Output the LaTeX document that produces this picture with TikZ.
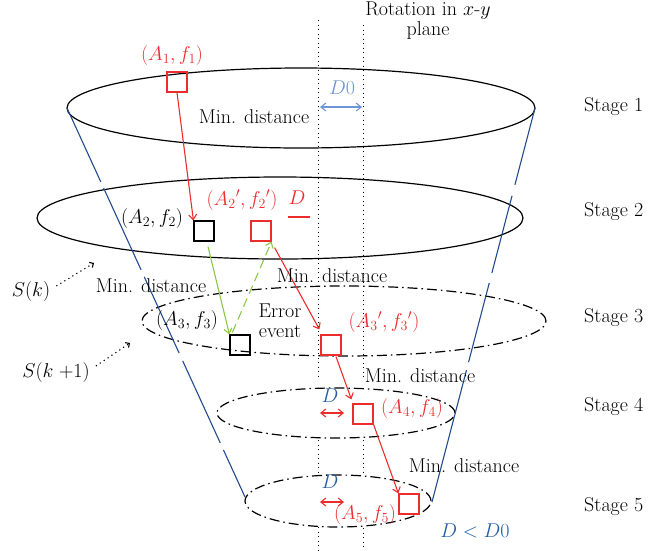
\RequirePackage{fix-cm}
\documentclass[tikz,border=0pt]{standalone}
\usetikzlibrary{arrows.meta,calc}
\definecolor{myred}{RGB}{235,45,45}
\definecolor{mygreen}{RGB}{140,200,70}
\definecolor{lblue}{RGB}{110,150,215}
\definecolor{dblue}{RGB}{35,95,165}
\definecolor{conecol}{RGB}{35,75,140}
\begin{document}
\begin{tikzpicture}[x=1pt,y=-1pt,
  every node/.style={font=\fontsize{20}{22}\selectfont, inner sep=0pt},
  sq/.style={draw, minimum size=20pt, line width=1.2pt, inner sep=0pt},
  redsq/.style={sq, draw=myred},
  stagesolid/.style={line width=1.2pt},
  stagedash/.style={line width=1.2pt, dash pattern=on 10pt off 4pt on 1.5pt off 4pt},
  vdots/.style={line width=1pt, dash pattern=on 1pt off 3.5pt},
  cone/.style={conecol, line width=1.1pt},
  tip/.style={-{Straight Barb[length=5pt,width=8pt]}},
  dtip/.style={{Straight Barb[length=5pt,width=8pt]}-{Straight Barb[length=5pt,width=8pt]}},
  redarr/.style={tip, myred, line width=1.1pt},
  grnarr/.style={tip, mygreen, line width=1.1pt},
  sarr/.style={-{Straight Barb[length=3pt,width=6pt]}, line width=1.1pt, dash pattern=on 1.2pt off 3.5pt}
]
\useasboundingbox (0,0) rectangle (663,550);

% vertical dotted lines
\coordinate (va0) at (318,20);  \coordinate (va1) at (318,380);
\coordinate (va2) at (318,440); \coordinate (va3) at (318,475);
\coordinate (va4) at (318,527); \coordinate (va5) at (318,550);
\coordinate (vb0) at (363,25);  \coordinate (vb1) at (363,380);
\coordinate (vb2) at (363,440); \coordinate (vb3) at (363,475);
\coordinate (vb4) at (363,528); \coordinate (vb5) at (363,550);
\draw[vdots] (va0) -- (va1) (va2) -- (va3) (va4) -- (va5);
\draw[vdots] (vb0) -- (vb1) (vb2) -- (vb3) (vb4) -- (vb5);

% stage ellipses
\draw[stagesolid] (301,108) ellipse [x radius=234pt, y radius=40pt];
\draw[stagesolid] (280,218) ellipse [x radius=243pt, y radius=41pt];
\draw[stagedash] (344,321) ellipse [x radius=202pt, y radius=35pt];
\draw[stagedash] (336,413) ellipse [x radius=119pt, y radius=25pt];
\draw[stagedash] (338,501) ellipse [x radius=93pt, y radius=26pt];

% cone lines
\coordinate (L0) at (67,108);  \coordinate (L1) at (245,497);
\coordinate (R0) at (535,108); \coordinate (R1) at (432,502);
\draw[cone] (L0) -- ($(L0)!0.190!(L1)$)
  ($(L0)!0.206!(L1)$) -- ($(L0)!0.416!(L1)$)
  ($(L0)!0.434!(L1)$) -- ($(L0)!0.630!(L1)$)
  ($(L0)!0.650!(L1)$) -- ($(L0)!0.861!(L1)$)
  ($(L0)!0.879!(L1)$) -- (L1);
\draw[cone] (R0) -- ($(R0)!0.195!(R1)$)
  ($(R0)!0.223!(R1)$) -- ($(R0)!0.419!(R1)$)
  ($(R0)!0.444!(R1)$) -- ($(R0)!0.645!(R1)$)
  ($(R0)!0.665!(R1)$) -- (R1);

% squares
\node[redsq] (a1) at (177,82) {};
\node[sq] (a2) at (204,231) {};
\node[redsq] (a2p) at (261,231) {};
\node[sq] (a3) at (240,345) {};
\node[redsq] (a3p) at (331,345) {};
\node[redsq] (a4) at (363,414) {};
\node[redsq] (a5) at (409,504) {};

% arrows between squares
\draw[redarr] (a1.south) -- (a2.north west);
\draw[grnarr] ($(a2.south)+(4,5)$) -- (a3.north west);
\draw[grnarr, dash pattern=on 9pt off 5pt] ($(a3.north west)+(3,-2)$) -- (a2p.south east);
\draw[redarr] ($(a2p.south east)+(3,6)$) -- ($(a3p.north west)+(-1,-5)$);
\draw[redarr] ($(a3p.south)+(5,1)$) -- ($(a4.north west)+(-1,-4)$);
\draw[redarr] (a4.south east) -- (a5.north west);

% labels
\node[align=center] (rot) at (428,21) {Rotation in $x$-$y$\\[-2pt]plane};
\node[myred] (la1) at (172,55) {$(A_1, f_1)$};
\node[lblue] (ld0) at (342,88) {$D0$};
\coordinate (d0a) at (320,107); \coordinate (d0b) at (362,107);
\draw[dtip, lblue, line width=1.1pt] (d0a) -- (d0b);
\node (md1) at (254,117) {Min. distance};

\node (la2) at (152,218) {$(A_2, f_2)$};
\node[myred] (la2p) at (242,200) {$(A_2{}', f_2{}')$};
\node[myred] (ld2) at (297,198) {$D$};
\coordinate (d2a) at (288,217); \coordinate (d2b) at (310,217);
\draw[myred, line width=1.1pt] (d2a) -- (d2b);

\node (md2) at (332,276) {Min. distance};
\node (md3) at (151,286) {Min. distance};
\node (la3) at (187,320) {$(A_3, f_3)$};
\node[align=center] (err) at (280,321) {Error\\[-2pt]event};
\node[myred] (la3p) at (384,322) {$(A_3{}', f_3{}')$};

\node (md4) at (420,376) {Min. distance};
\node[dblue] (ld4) at (330,396) {$D$};
\coordinate (d4a) at (320,413); \coordinate (d4b) at (344,413);
\draw[dtip, myred, line width=1.1pt] (d4a) -- (d4b);
\node[myred] (la4) at (412,408) {$(A_4, f_4)$};

\node (md5) at (464,466) {Min. distance};
\node[dblue] (ld5) at (330,482) {$D$};
\coordinate (d5a) at (320,502); \coordinate (d5b) at (344,502);
\draw[dtip, myred, line width=1.1pt] (d5a) -- (d5b);
\node[myred] (la5) at (365,514) {$(A_5, f_5)$};
\node[dblue] (ldd) at (475,531) {$D < D0$};

% stage labels
\node[anchor=west] (s1) at (584,107) {Stage 1};
\node[anchor=west] (s2) at (584,212) {Stage 2};
\node[anchor=west] (s3) at (584,318) {Stage 3};
\node[anchor=west] (s4) at (584,407) {Stage 4};
\node[anchor=west] (s5) at (584,507) {Stage 5};

% S(k) labels
\node (sk) at (31,291) {$S(k)$};
\node (sk1) at (56,372) {$S(k\;{+}1)$};
\coordinate (skt) at (94,263);
\coordinate (sk1t) at (130,343);
\draw[sarr] ($(sk.east)+(6,-5)$) -- (skt);
\draw[sarr] ($(sk1.east)+(6,-6)$) -- (sk1t);
\end{tikzpicture}
\end{document}
